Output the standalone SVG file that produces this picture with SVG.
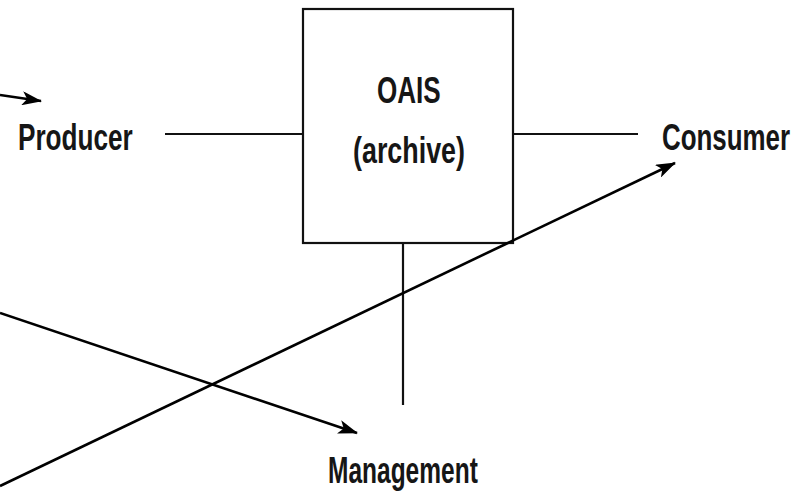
<svg xmlns="http://www.w3.org/2000/svg" width="808" height="496" viewBox="0 0 808 496">
  <style>
    .lbl { font-family: "Liberation Sans", Arial, sans-serif; font-weight: bold; font-size: 37px; fill: #161616; }
    .ln { stroke: #111; stroke-width: 2.2; fill: none; }
    .arr { stroke: #000; stroke-width: 2.6; fill: none; marker-end: url(#head); }
  </style>
  <defs>
    <marker id="head" viewBox="0 0 20 14" refX="19" refY="7" markerWidth="20" markerHeight="14" markerUnits="userSpaceOnUse" orient="auto">
      <path d="M0,0 L20,7 L0,14 L5,7 Z" fill="#000"/>
    </marker>
  </defs>
  <rect width="808" height="496" fill="#fff"/>

  <!-- labels are set in a horizontally condensed bold face (scale 0.7 in x) -->
  <g id="archive">
    <rect x="303" y="9" width="210" height="234" class="ln"/>
    <text class="lbl" transform="translate(377,103) scale(0.7,1)" textLength="91" lengthAdjust="spacingAndGlyphs">OAIS</text>
    <text class="lbl" transform="translate(353,163) scale(0.7,1)" textLength="160" lengthAdjust="spacingAndGlyphs">(archive)</text>
  </g>
  <g id="producer">
    <text class="lbl" transform="translate(18,150) scale(0.7,1)" textLength="164" lengthAdjust="spacingAndGlyphs">Producer</text>
  </g>
  <g id="consumer">
    <text class="lbl" transform="translate(662,150) scale(0.7,1)" textLength="183" lengthAdjust="spacingAndGlyphs">Consumer</text>
  </g>
  <g id="management">
    <text class="lbl" transform="translate(328,483) scale(0.7,1)" textLength="214" lengthAdjust="spacingAndGlyphs">Management</text>
  </g>

  <g id="connectors">
    <line class="ln" x1="165" y1="134" x2="303" y2="134"/>
    <line class="ln" x1="513" y1="134" x2="638" y2="134"/>
    <line class="ln" x1="403" y1="243" x2="403" y2="405"/>
    <line class="arr" x1="0" y1="95" x2="41" y2="101"/>
    <line class="arr" x1="0" y1="313" x2="357" y2="433"/>
    <line class="arr" x1="0" y1="486" x2="675" y2="163"/>
  </g>
</svg>
